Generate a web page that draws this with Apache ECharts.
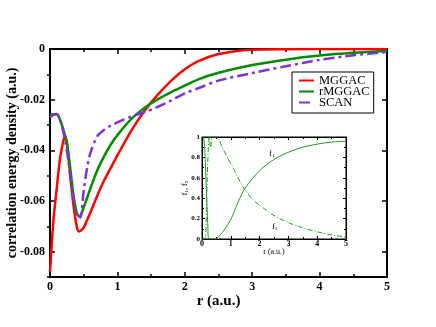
<!DOCTYPE html>
<html>
<head>
<meta charset="utf-8">
<script src="https://cdn.jsdelivr.net/npm/echarts@6/dist/echarts.min.js"></script>
<style>
  html, body { margin: 0; padding: 0; background: #fff; }
  #main { width: 436px; height: 327px; }
</style>
</head>
<body>
<div id="main"></div>
<script>
// main panel: r (a.u.) and correlation energy density (a.u.)
var rMggac = [0, 0.05, 0.1, 0.15, 0.2, 0.22, 0.25, 0.3, 0.35, 0.4, 0.43, 0.5, 0.55, 0.6, 0.7, 0.8, 0.9, 1.0, 1.2, 1.4, 1.6, 1.8, 2.0, 2.2, 2.5, 2.8, 3.0, 3.5, 4, 4.5, 5];
var mggac = [-0.088, -0.068, -0.055, -0.043, -0.036, -0.0345, -0.037, -0.050, -0.062, -0.0705, -0.072, -0.0705, -0.0675, -0.0645, -0.058, -0.052, -0.047, -0.042, -0.0325, -0.0245, -0.018, -0.0125, -0.008, -0.0048, -0.002, -0.0007, -0.0003, -0.0001, 0, 0, 0];

var rRmggac = [0, 0.05, 0.1, 0.15, 0.2, 0.25, 0.3, 0.35, 0.4, 0.44, 0.5, 0.6, 0.7, 0.8, 0.9, 1.0, 1.2, 1.4, 1.6, 1.8, 2.0, 2.2, 2.5, 3.0, 3.5, 4, 4.5, 5];
var rmggac = [-0.026, -0.0258, -0.0258, -0.028, -0.032, -0.037, -0.047, -0.058, -0.065, -0.066, -0.0625, -0.055, -0.048, -0.0425, -0.0378, -0.034, -0.0278, -0.0233, -0.0198, -0.0170, -0.0145, -0.012, -0.0094, -0.0063, -0.0042, -0.0026, -0.0015, -0.0008];

var rScan = [0, 0.05, 0.1, 0.15, 0.2, 0.25, 0.3, 0.35, 0.4, 0.45, 0.5, 0.55, 0.6, 0.7, 0.8, 0.9, 1.0, 1.2, 1.4, 1.6, 1.8, 2.0, 2.2, 2.5, 3.0, 3.5, 4, 4.5, 5];
var scan = [-0.027, -0.026, -0.0257, -0.028, -0.033, -0.040, -0.050, -0.059, -0.065, -0.0665, -0.056, -0.047, -0.041, -0.0345, -0.032, -0.0302, -0.029, -0.0267, -0.025, -0.0228, -0.0203, -0.0175, -0.0155, -0.0125, -0.0095, -0.0068, -0.0043, -0.0025, -0.0012];

// inset: switching functions f1, f2
var rF1 = [0, 0.05, 0.1, 0.15, 0.2, 0.24, 0.45, 0.6, 0.8, 1.0, 1.25, 1.5, 2.0, 2.5, 3.0, 3.5, 4.0, 4.5, 5];
var f1 = [1, 1, 0.85, 0.5, 0.15, 0, 0, 0.03, 0.1, 0.19, 0.36, 0.5, 0.67, 0.78, 0.85, 0.9, 0.93, 0.95, 0.96];
var rF2 = [0, 0.1, 0.17, 0.22, 0.25, 0.3, 0.36, 0.52, 0.7, 0.9, 1.08, 1.25, 1.45, 1.75, 2.0, 2.25, 2.5, 3.0, 3.5, 4, 4.5, 5];
var f2 = [0, 0, 0.5, 0.9, 1, 0.88, 1, 1, 0.9, 0.79, 0.7, 0.6, 0.5, 0.39, 0.33, 0.28, 0.23, 0.16, 0.11, 0.07, 0.04, 0.02];

var yMajor = [0, -0.02, -0.04, -0.06, -0.08];
var yMinor = [-0.01, -0.03, -0.05, -0.07, -0.09];

function pairs(xs, ys) {
    return xs.map(function(x, i) { return [x, ys[i]]; });
}

var serif = 'Liberation Serif';
var myChart = echarts.init(document.getElementById('main'));

var axisLine = { show: true, onZero: false, lineStyle: { color: '#000', width: 2 } };
var inAxisLine = { show: true, onZero: false, lineStyle: { color: '#000', width: 1 } };

var option = {
    animation: false,
    backgroundColor: '#fff',
    grid: [
        { left: 50, top: 49, width: 337, height: 228, show: false, outerBoundsMode: 'none', containLabel: false },
        { left: 202, top: 137, width: 144, height: 102, show: true, backgroundColor: '#fff', borderColor: '#000', borderWidth: 1, z: 5, outerBoundsMode: 'none', containLabel: false }
    ],
    legend: {
        data: ['MGGAC', 'rMGGAC', 'SCAN'],
        orient: 'vertical',
        left: 292, top: 72,
        itemWidth: 15, itemHeight: 10,
        itemGap: -2,
        padding: [2, 4, 4, 6],
        borderColor: '#000', borderWidth: 1,
        backgroundColor: '#fff',
        itemStyle: { opacity: 0 },
        textStyle: { fontFamily: serif, fontSize: 12.5, color: '#000', padding: [0, 0, 0, 0] }
    },
    xAxis: [
        {
            gridIndex: 0, type: 'value', min: 0, max: 5, interval: 1,
            name: 'r (a.u.)', nameLocation: 'middle', nameGap: 17, nameMoveOverlap: false,
            nameTextStyle: { fontFamily: serif, fontSize: 15, fontWeight: 'bold', color: '#000' },
            axisLine: axisLine,
            axisTick: { inside: true, length: 5, lineStyle: { color: '#000', width: 1.5 } },
            minorTick: { show: true, splitNumber: 2, length: 3, lineStyle: { color: '#000', width: 1.5 } },
            axisLabel: { fontFamily: serif, fontSize: 12, fontWeight: 'bold', color: '#000', margin: 4 },
            splitLine: { show: false }
        },
        {
            gridIndex: 0, type: 'value', min: 0, max: 5, interval: 1, position: 'top',
            axisLine: axisLine,
            axisTick: { inside: true, length: 5, lineStyle: { color: '#000', width: 1.5 } },
            minorTick: { show: true, splitNumber: 2, length: 3, lineStyle: { color: '#000', width: 1.5 } },
            axisLabel: { show: false }, splitLine: { show: false }
        },
        {
            gridIndex: 1, type: 'value', min: 0, max: 5, interval: 1,
            name: 'r (a.u.)', nameLocation: 'middle', nameGap: 9, nameMoveOverlap: false,
            nameTextStyle: { fontFamily: serif, fontSize: 8, color: '#000' },
            axisLine: inAxisLine,
            axisTick: { inside: true, length: 3, lineStyle: { color: '#000' } },
            minorTick: { show: true, splitNumber: 2, length: 2, lineStyle: { color: '#000' } },
            axisLabel: { fontFamily: serif, fontSize: 8, fontWeight: 'bold', color: '#000', margin: 1 },
            splitLine: { show: false }, z: 6
        },
        {
            gridIndex: 1, type: 'value', min: 0, max: 5, interval: 1, position: 'top',
            axisLine: inAxisLine,
            axisTick: { inside: true, length: 3, lineStyle: { color: '#000' } },
            minorTick: { show: true, splitNumber: 2, length: 2, lineStyle: { color: '#000' } },
            axisLabel: { show: false }, splitLine: { show: false }, z: 6
        }
    ],
    yAxis: [
        {
            gridIndex: 0, type: 'value', min: -0.09, max: 0,
            name: 'correlation energy density (a.u.)', nameLocation: 'middle', nameGap: 31, nameMoveOverlap: false,
            nameTextStyle: { fontFamily: serif, fontSize: 14, fontWeight: 'bold', color: '#000' },
            axisLine: axisLine,
            axisTick: { inside: true, length: 5, customValues: yMajor, lineStyle: { color: '#000', width: 1.5 } },
            axisLabel: { fontFamily: serif, fontSize: 12, fontWeight: 'bold', color: '#000', margin: 5, customValues: yMajor,
                formatter: function(v) { return v === 0 ? '0' : v.toFixed(2); } },
            splitLine: { show: false }
        },
        {
            gridIndex: 0, type: 'value', min: -0.09, max: 0,
            axisLine: { show: false },
            axisTick: { inside: true, length: 3, customValues: yMinor, lineStyle: { color: '#000', width: 1.5 } },
            axisLabel: { show: false }, splitLine: { show: false }
        },
        {
            gridIndex: 0, type: 'value', min: -0.09, max: 0, position: 'right',
            axisLine: axisLine,
            axisTick: { inside: true, length: 5, customValues: yMajor, lineStyle: { color: '#000', width: 1.5 } },
            axisLabel: { show: false }, splitLine: { show: false }
        },
        {
            gridIndex: 0, type: 'value', min: -0.09, max: 0, position: 'right',
            axisLine: { show: false },
            axisTick: { inside: true, length: 3, customValues: yMinor, lineStyle: { color: '#000', width: 1.5 } },
            axisLabel: { show: false }, splitLine: { show: false }
        },
        {
            gridIndex: 1, type: 'value', min: 0, max: 1, interval: 0.2,
            name: '{a|f}{s|1}{a|, f}{s|2}', nameLocation: 'middle', nameGap: 13, nameMoveOverlap: false,
            nameTextStyle: { fontFamily: serif, fontSize: 8, color: '#000',
                rich: { a: { fontFamily: serif, fontSize: 8 }, s: { fontFamily: serif, fontSize: 5, verticalAlign: 'bottom', padding: [4, 0, 0, 0] } } },
            axisLine: inAxisLine,
            axisTick: { inside: true, length: 3, lineStyle: { color: '#000' } },
            minorTick: { show: true, splitNumber: 2, length: 2, lineStyle: { color: '#000' } },
            axisLabel: { fontFamily: serif, fontSize: 7, fontWeight: 'bold', color: '#000', margin: 2 },
            splitLine: { show: false }, z: 6
        },
        {
            gridIndex: 1, type: 'value', min: 0, max: 1, interval: 0.2, position: 'right',
            axisLine: inAxisLine,
            axisTick: { inside: true, length: 3, lineStyle: { color: '#000' } },
            minorTick: { show: true, splitNumber: 2, length: 2, lineStyle: { color: '#000' } },
            axisLabel: { show: false }, splitLine: { show: false }, z: 6
        }
    ],
    graphic: [
        { type: 'text', left: 269, top: 149, z: 100,
          style: { text: '{a|f}{s|1}', fill: '#000',
                   rich: { a: { fontFamily: serif, fontSize: 9 }, s: { fontFamily: serif, fontSize: 5, padding: [5, 0, 0, 0] } } } },
        { type: 'text', left: 272, top: 222, z: 100,
          style: { text: '{a|f}{s|2}', fill: '#000',
                   rich: { a: { fontFamily: serif, fontSize: 9 }, s: { fontFamily: serif, fontSize: 5, padding: [5, 0, 0, 0] } } } }
    ],
    series: [
        {
            name: 'MGGAC', type: 'line', xAxisIndex: 0, yAxisIndex: 0,
            data: pairs(rMggac, mggac), symbol: 'none', smooth: 0.3,
            lineStyle: { color: '#ff0000', width: 2.5 }, itemStyle: { color: '#ff0000' }
        },
        {
            name: 'rMGGAC', type: 'line', xAxisIndex: 0, yAxisIndex: 0,
            data: pairs(rRmggac, rmggac), symbol: 'none', smooth: 0.3,
            lineStyle: { color: '#008c00', width: 2.5 }, itemStyle: { color: '#008c00' }
        },
        {
            name: 'SCAN', type: 'line', xAxisIndex: 0, yAxisIndex: 0,
            data: pairs(rScan, scan), symbol: 'none', smooth: 0.3,
            lineStyle: { color: '#7d33d6', width: 2.5, type: [11, 4, 3, 4] }, itemStyle: { color: '#7d33d6' }
        },
        {
            name: 'f1', type: 'line', xAxisIndex: 2, yAxisIndex: 4,
            data: pairs(rF1, f1), symbol: 'none', smooth: 0.3, z: 10,
            lineStyle: { color: '#1e9a1e', width: 1 }
        },
        {
            name: 'f2', type: 'line', xAxisIndex: 2, yAxisIndex: 4,
            data: pairs(rF2, f2), symbol: 'none', smooth: 0.3, z: 10,
            lineStyle: { color: '#1e9a1e', width: 1, type: [5, 2, 1, 2] }
        }
    ]
};

myChart.setOption(option);
</script>
</body>
</html>
